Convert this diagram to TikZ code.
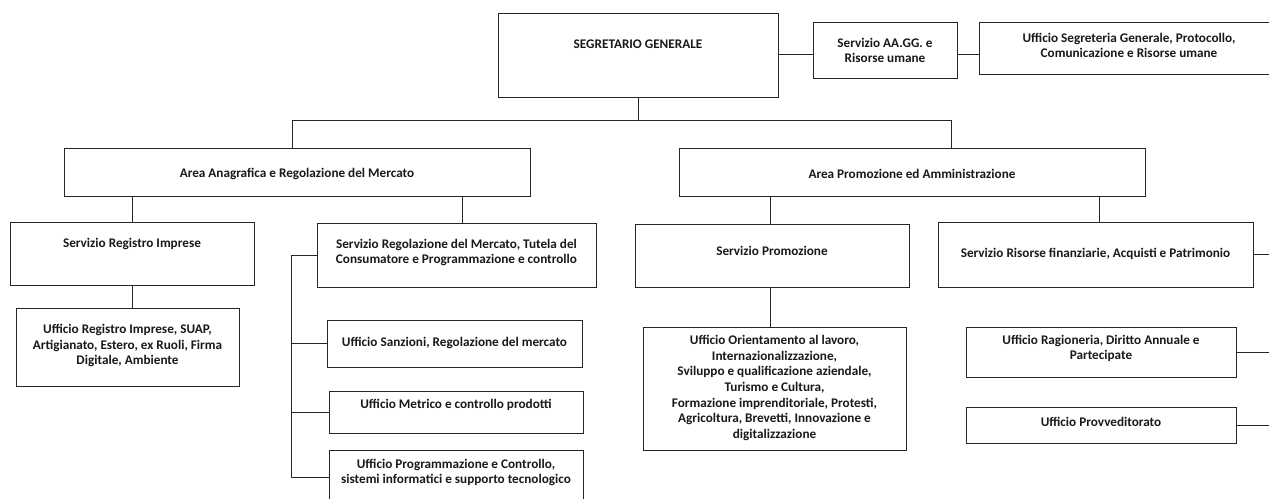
\documentclass[tikz,border=0pt]{standalone}
\usepackage{fontspec}
\setmainfont{Carlito}
\usepackage{tikz}
\tikzstyle{orgChart} = [x = 1pt, y = -1pt]
\tikzstyle{orgBoxStyle} = [draw = black!85, line width = .9pt, fill = white, inner sep = 0pt]
\tikzstyle{orgText} = [font = \bfseries\fontsize{13.2}{15.6}\selectfont, align = center, inner sep = 0pt, text = black!90]
\tikzstyle{orgLine} = [draw = black!85, line width = .9pt]
\newcommand{\orgBox}[7]{
  \node [orgBoxStyle, minimum width = #4 - #2, minimum height = #5 - #3] (#1) at ({(#2 + #4) / 2}, {(#3 + #5) / 2}) {};
  \node [orgText] (#1Text) at ({(#2 + #4) / 2}, #6) {#7};
}
\begin{document}
\begin{tikzpicture}[orgChart]
  \useasboundingbox (0, 0) rectangle (1269, 498);
  \orgBox{segretario}{498}{13}{778}{97}{44}{SEGRETARIO GENERALE}
  \orgBox{serviziAAGG}{813}{22}{957}{78}{50.5}{Servizio AA.GG. e\\Risorse umane}
  \orgBox{ufficioSegreteria}{979}{22}{1279}{74}{45.5}{Ufficio Segreteria Generale, Protocollo,\\Comunicazione e Risorse umane}

  \orgBox{areaAnagrafica}{64}{148}{530}{196}{174}{Area Anagrafica e Regolazione del Mercato}
  \orgBox{areaPromozione}{679}{148}{1145}{196}{174}{Area Promozione ed Amministrazione}

  \orgBox{servizioRegistro}{10}{222}{254}{285}{244}{Servizio Registro Imprese}
  \orgBox{servizioRegolazione}{317}{223}{596}{287}{252.5}{Servizio Regolazione del Mercato, Tutela del\\Consumatore e Programmazione e controllo}
  \orgBox{servizioPromozione}{635}{224}{909}{287}{251}{Servizio Promozione}
  \orgBox{servizioRisorse}{938}{222}{1253}{287}{254}{Servizio Risorse finanziarie, Acquisti e Patrimonio}

  \orgBox{ufficioRegistro}{16}{308}{239}{386}{345.5}{Ufficio Registro Imprese, SUAP,\\Artigianato, Estero, ex Ruoli, Firma\\Digitale, Ambiente}
  \orgBox{ufficioSanzioni}{327}{320}{582}{367}{343}{Ufficio Sanzioni, Regolazione del mercato}
  \orgBox{ufficioMetrico}{329}{391}{583}{433}{405}{Ufficio Metrico e controllo prodotti}
  \orgBox{ufficioProgrammazione}{329}{450}{583}{505}{472.5}{Ufficio Programmazione e Controllo,\\sistemi informatici e supporto tecnologico}
  \orgBox{ufficioOrientamento}{643}{327}{906}{450}{388}{Ufficio Orientamento al lavoro,\\Internazionalizzazione,\\Sviluppo e qualificazione aziendale,\\Turismo e Cultura,\\Formazione imprenditoriale, Protesti,\\Agricoltura, Brevetti, Innovazione e\\digitalizzazione}
  \orgBox{ufficioRagioneria}{966}{327}{1236}{377}{348.5}{Ufficio Ragioneria, Diritto Annuale e\\Partecipate}
  \orgBox{ufficioProvveditorato}{966}{407}{1236}{443}{422}{Ufficio Provveditorato}

  \coordinate (rightEdge) at (1275, 0);

  \draw [orgLine] (segretario.east |- 0,54) -- (serviziAAGG.west |- 0,54);
  \draw [orgLine] (serviziAAGG.east |- 0,54) -- (ufficioSegreteria.west |- 0,54);

  \draw [orgLine] (segretario.south) -- (segretario.south |- 0,120) coordinate (mainBus);
  \draw [orgLine] (mainBus) -| ([xshift = -5] areaAnagrafica.north);
  \draw [orgLine] (mainBus) -| ([xshift = 39] areaPromozione.north);

  \draw [orgLine] (servizioRegistro.north) -- (servizioRegistro.north |- areaAnagrafica.south);
  \draw [orgLine] ([xshift = 5.5] servizioRegolazione.north) -- ([xshift = 5.5] servizioRegolazione.north |- areaAnagrafica.south);
  \draw [orgLine] ([xshift = -2] servizioPromozione.north) -- ([xshift = -2] servizioPromozione.north |- areaPromozione.south);
  \draw [orgLine] ([xshift = 3.5] servizioRisorse.north) -- ([xshift = 3.5] servizioRisorse.north |- areaPromozione.south);

  \draw [orgLine] (servizioRegistro.south) -- (servizioRegistro.south |- ufficioRegistro.north);
  \draw [orgLine] ([xshift = -2] servizioPromozione.south) -- ([xshift = -2] servizioPromozione.south |- ufficioOrientamento.north);

  \draw [orgLine] (servizioRegolazione.west) -- ++(-25, 0) coordinate (regolazioneBus) |- (ufficioProgrammazione.west);
  \draw [orgLine] (ufficioSanzioni.west) -- (ufficioSanzioni.west -| regolazioneBus);
  \draw [orgLine] (ufficioMetrico.west) -- (ufficioMetrico.west -| regolazioneBus);

  \draw [orgLine] (servizioRisorse.east) -- (servizioRisorse.east -| rightEdge);
  \draw [orgLine] (ufficioRagioneria.east) -- (ufficioRagioneria.east -| rightEdge);
  \draw [orgLine] (ufficioProvveditorato.east) -- (ufficioProvveditorato.east -| rightEdge);
\end{tikzpicture}
\end{document}
